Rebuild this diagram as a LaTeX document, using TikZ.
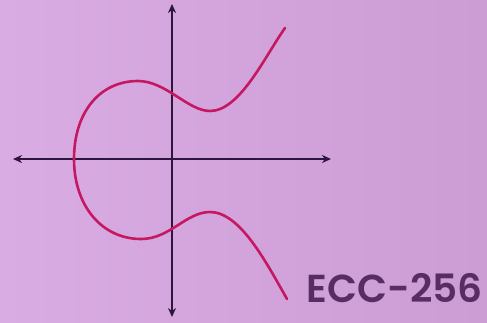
\documentclass[tikz,border=0pt]{standalone}
\usepackage{fontspec}
\newfontfamily\tagfont{Poppins}[BoldFont={* SemiBold}]
\usetikzlibrary{arrows.meta}
\definecolor{bgleft}{RGB}{218,172,228}
\definecolor{bgright}{RGB}{204,156,212}
\definecolor{axisink}{RGB}{45,22,62}
\definecolor{curveink}{RGB}{196,24,96}
\definecolor{tagink}{RGB}{88,44,100}

\begin{document}
\begin{tikzpicture}[x=1pt,y=-1pt,
  axis/.style={{Stealth[length=9pt,width=8pt]}-{Stealth[length=9pt,width=8pt]},line width=2pt,draw=axisink},
  curve/.style={line width=2.6pt,draw=curveink,line cap=round,line join=round},
  tag/.style={font=\tagfont\bfseries\fontsize{39}{39}\selectfont,text=tagink,inner sep=0pt}]
  % background
  \fill[left color=bgleft,right color=bgright] (0,0) rectangle (487,322);
  \useasboundingbox (0,0) rectangle (487,322);
  % axes
  \coordinate (xleft) at (13,159);
  \coordinate (xright) at (331,159);
  \coordinate (ytop) at (172,4);
  \coordinate (ybottom) at (172,317);
  \draw[axis] (xleft) -- (xright);
  \draw[axis] (ytop) -- (ybottom);
  % the curve
  \coordinate (root) at (74,159);
  \draw[curve] (285,28) .. controls (265,56) and (240,111) .. (210,111)
    .. controls (188,111) and (166,81) .. (138,81)
    .. controls (100,81) and (74,112) .. (root)
    .. controls (74,206) and (102,239) .. (141,239)
    .. controls (170,239) and (186,212) .. (210,212)
    .. controls (240,212) and (266,262) .. (287,299);
  % label
  \node[tag,anchor=base east] (ecc) at (483,302) {ECC-256};
\end{tikzpicture}
\end{document}
